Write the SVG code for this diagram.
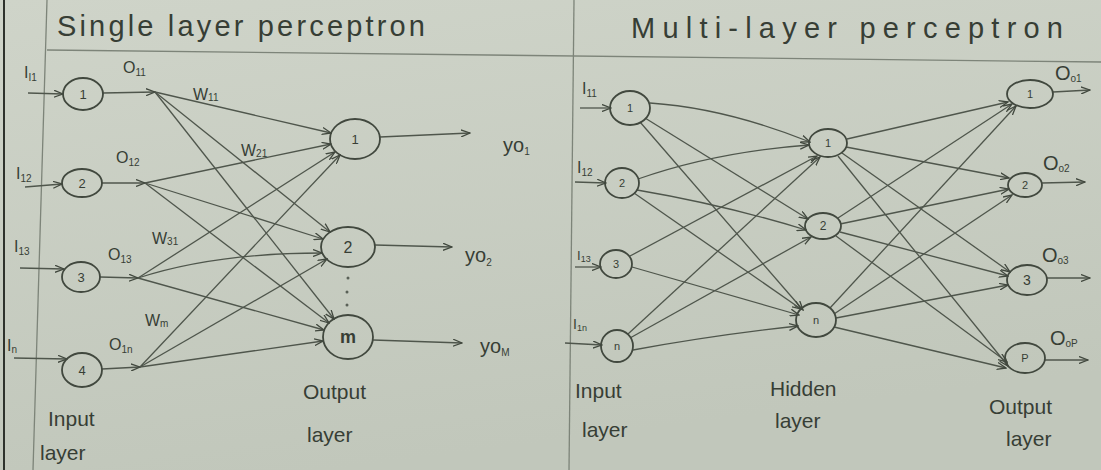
<svg xmlns="http://www.w3.org/2000/svg" width="1101" height="470" viewBox="0 0 1101 470">
<defs>
<linearGradient id="paper" x1="0" y1="0" x2="0.3" y2="1">
<stop offset="0" stop-color="#cfd4c9"/>
<stop offset="1" stop-color="#c1c7bb"/>
</linearGradient>
<marker id="arr" viewBox="0 0 10 8" refX="9" refY="4" markerWidth="10" markerHeight="8" markerUnits="userSpaceOnUse" orient="auto">
<path d="M0,0.5 L9,4 L0,7.5" fill="none" stroke="#41483e" stroke-width="1.3"/>
</marker>
<style>
.node{stroke:#41483e;stroke-width:1.8;fill:none}
.edge{stroke:#4f564c;stroke-width:1.3;fill:none;marker-end:url(#arr)}
.rule{stroke:#7d8479;stroke-width:1.3;fill:none}
text{font-family:"Liberation Sans","DejaVu Sans",sans-serif;fill:#373e35}
.title{font-size:29px}
.lbl{font-size:16px}
.sub{font-size:10px}
.num{font-size:13px;text-anchor:middle}
.cap{font-size:21px}
.y{font-size:20px}
</style>
</defs>
<rect x="0" y="0" width="1101" height="470" fill="url(#paper)"/>
<g id="frame">
<line x1="4" y1="0" x2="4" y2="470" stroke="#2e322c" stroke-width="2"/>
<line class="rule" x1="47" y1="0" x2="33" y2="470"/>
<line class="rule" x1="47" y1="50" x2="1101" y2="62"/>
<line class="rule" x1="574" y1="0" x2="569" y2="470"/>
</g>
<g id="titles">
<text class="title" x="57" y="36" textLength="368" lengthAdjust="spacing">Single layer perceptron</text>
<text class="title" x="631" y="38" textLength="432" lengthAdjust="spacing">Multi-layer perceptron</text>
</g>
<g id="connectors">
<line class="edge" x1="28" y1="93" x2="63" y2="94"/>
<line class="edge" x1="25" y1="187" x2="62" y2="184"/>
<line class="edge" x1="20" y1="268" x2="64" y2="269"/>
<line class="edge" x1="14" y1="358" x2="67" y2="359"/>
<line class="edge" x1="103" y1="93" x2="155" y2="92"/>
<line class="edge" x1="102" y1="183" x2="145" y2="183"/>
<line class="edge" x1="100" y1="277" x2="138" y2="278"/>
<line class="edge" x1="102" y1="369" x2="140" y2="367"/>
<line class="edge" x1="155" y1="92" x2="331" y2="133"/>
<line class="edge" x1="155" y1="92" x2="330" y2="232"/>
<line class="edge" x1="155" y1="92" x2="334" y2="319"/>
<line class="edge" x1="145" y1="183" x2="331" y2="144"/>
<line class="edge" x1="145" y1="183" x2="323" y2="239"/>
<line class="edge" x1="145" y1="183" x2="329" y2="323"/>
<line class="edge" x1="138" y1="278" x2="335" y2="152"/>
<path class="edge" d="M138,278 Q215,253 322,253"/>
<line class="edge" x1="138" y1="278" x2="324" y2="330"/>
<line class="edge" x1="140" y1="367" x2="340" y2="155"/>
<line class="edge" x1="140" y1="367" x2="327" y2="259"/>
<line class="edge" x1="140" y1="367" x2="323" y2="341"/>
<line class="edge" x1="380" y1="137" x2="470" y2="133"/>
<line class="edge" x1="375" y1="245" x2="452" y2="247"/>
<line class="edge" x1="373" y1="340" x2="462" y2="343"/>
<line class="edge" x1="580" y1="108" x2="611" y2="108"/>
<line class="edge" x1="575" y1="182" x2="606" y2="183"/>
<line class="edge" x1="575" y1="267" x2="601" y2="267"/>
<line class="edge" x1="565" y1="343" x2="602" y2="345"/>
<path class="edge" d="M650,103 Q725,108 810,142"/>
<line class="edge" x1="645" y1="118" x2="808" y2="219"/>
<line class="edge" x1="640" y1="122" x2="803" y2="310"/>
<path class="edge" d="M638,179 Q715,152 809,145"/>
<path class="edge" d="M637,190 Q725,205 806,230"/>
<line class="edge" x1="634" y1="193" x2="801" y2="309"/>
<line class="edge" x1="630" y1="256" x2="817" y2="156"/>
<line class="edge" x1="632" y1="267" x2="799" y2="315"/>
<line class="edge" x1="628" y1="334" x2="820" y2="157"/>
<line class="edge" x1="630" y1="338" x2="811" y2="237"/>
<path class="edge" d="M633,350 Q715,335 798,326"/>
<line class="edge" x1="847" y1="139" x2="1008" y2="102"/>
<line class="edge" x1="846" y1="147" x2="1009" y2="178"/>
<line class="edge" x1="842" y1="153" x2="1010" y2="272"/>
<line class="edge" x1="838" y1="156" x2="1008" y2="366"/>
<line class="edge" x1="838" y1="218" x2="1012" y2="104"/>
<line class="edge" x1="840" y1="224" x2="1009" y2="189"/>
<line class="edge" x1="840" y1="232" x2="1008" y2="276"/>
<line class="edge" x1="836" y1="236" x2="1007" y2="362"/>
<line class="edge" x1="830" y1="308" x2="1016" y2="106"/>
<line class="edge" x1="834" y1="314" x2="1012" y2="195"/>
<line class="edge" x1="836" y1="318" x2="1008" y2="285"/>
<line class="edge" x1="834" y1="327" x2="1006" y2="368"/>
<line class="edge" x1="1053" y1="92" x2="1090" y2="90"/>
<line class="edge" x1="1042" y1="183" x2="1085" y2="182"/>
<line class="edge" x1="1047" y1="278" x2="1090" y2="278"/>
<line class="edge" x1="1045" y1="360" x2="1088" y2="360"/>
</g>
<g id="slp-in1"><ellipse class="node" cx="83" cy="94" rx="20" ry="16"/><text class="num" x="83" y="99">1</text></g>
<g id="slp-in2"><ellipse class="node" cx="82" cy="183" rx="20" ry="14"/><text class="num" x="82" y="188">2</text></g>
<g id="slp-in3"><ellipse class="node" cx="81" cy="277" rx="19" ry="15"/><text class="num" x="81" y="282">3</text></g>
<g id="slp-in4"><ellipse class="node" cx="82" cy="370" rx="20" ry="17"/><text class="num" x="82" y="375">4</text></g>
<g id="slp-out1"><ellipse class="node" cx="355" cy="139" rx="25" ry="20"/><text class="num" x="355" y="144">1</text></g>
<g id="slp-out2"><ellipse class="node" cx="348" cy="247" rx="27" ry="20"/><text class="num" x="348" y="253" style="font-size:16px">2</text></g>
<g id="slp-outm"><ellipse class="node" cx="348" cy="337" rx="25" ry="22"/><text class="num" x="348" y="343" style="font-size:18px;font-weight:bold">m</text></g>
<g id="slp-dots" fill="#5a6157"><circle cx="348" cy="278" r="1.5"/><circle cx="347" cy="292" r="1.5"/><circle cx="347" cy="305" r="1.5"/></g>
<g id="slp-labels">
<text class="lbl" x="24" y="78">I<tspan class="sub" dy="3">I1</tspan></text>
<text class="lbl" x="16" y="179">I<tspan class="sub" dy="3">12</tspan></text>
<text class="lbl" x="14" y="252">I<tspan class="sub" dy="3">13</tspan></text>
<text class="lbl" x="7" y="351">I<tspan class="sub" dy="2">n</tspan></text>
<text class="lbl" x="123" y="73">O<tspan class="sub" dy="3">11</tspan></text>
<text class="lbl" x="116" y="163">O<tspan class="sub" dy="3">12</tspan></text>
<text class="lbl" x="108" y="260">O<tspan class="sub" dy="3">13</tspan></text>
<text class="lbl" x="109" y="350">O<tspan class="sub" dy="3">1n</tspan></text>
<text class="lbl" x="193" y="100">W<tspan class="sub" dy="1">11</tspan></text>
<text class="lbl" x="241" y="156">W<tspan class="sub" dy="1">21</tspan></text>
<text class="lbl" x="152" y="244">W<tspan class="sub" dy="1">31</tspan></text>
<text class="lbl" x="145" y="326">W<tspan class="sub" dy="1">m</tspan></text>
<text class="y" x="503" y="152">yo<tspan class="sub" dy="3">1</tspan></text>
<text class="y" x="465" y="262">yo<tspan class="sub" dy="4">2</tspan></text>
<text class="y" x="480" y="353">yo<tspan class="sub" dy="3">M</tspan></text>
<text class="cap" x="48" y="426">Input</text>
<text class="cap" x="40" y="460">layer</text>
<text class="cap" x="303" y="399">Output</text>
<text class="cap" x="307" y="442">layer</text>
</g>
<g id="mlp-in1"><ellipse class="node" cx="630" cy="108" rx="20" ry="17"/><text class="num" x="630" y="112" style="font-size:11px">1</text></g>
<g id="mlp-in2"><ellipse class="node" cx="622" cy="183" rx="17" ry="15"/><text class="num" x="622" y="187" style="font-size:11px">2</text></g>
<g id="mlp-in3"><ellipse class="node" cx="616" cy="264" rx="16" ry="14"/><text class="num" x="616" y="268" style="font-size:11px">3</text></g>
<g id="mlp-inn"><ellipse class="node" cx="617" cy="346" rx="16" ry="16"/><text class="num" x="617" y="350" style="font-size:11px">n</text></g>
<g id="mlp-h1"><ellipse class="node" cx="828" cy="143" rx="19" ry="14"/><text class="num" x="828" y="147" style="font-size:11px">1</text></g>
<g id="mlp-h2"><ellipse class="node" cx="823" cy="226" rx="18" ry="13"/><text class="num" x="823" y="230" style="font-size:12px">2</text></g>
<g id="mlp-hn"><ellipse class="node" cx="816" cy="320" rx="20" ry="17"/><text class="num" x="816" y="324" style="font-size:11px">n</text></g>
<g id="mlp-o1"><ellipse class="node" cx="1030" cy="94" rx="23" ry="14"/><text class="num" x="1030" y="98" style="font-size:11px">1</text></g>
<g id="mlp-o2"><ellipse class="node" cx="1025" cy="185" rx="17" ry="12"/><text class="num" x="1025" y="189" style="font-size:11px">2</text></g>
<g id="mlp-o3"><ellipse class="node" cx="1027" cy="280" rx="20" ry="15"/><text class="num" x="1027" y="285" style="font-size:14px">3</text></g>
<g id="mlp-op"><ellipse class="node" cx="1025" cy="358" rx="20" ry="15"/><text class="num" x="1025" y="362" style="font-size:11px">P</text></g>
<g id="mlp-labels">
<text class="lbl" x="582" y="94">I<tspan class="sub" dy="3">11</tspan></text>
<text class="lbl" x="577" y="173">I<tspan class="sub" dy="3">12</tspan></text>
<text class="lbl" x="577" y="260" style="font-size:13px">I<tspan class="sub" dy="2" style="font-size:9px">13</tspan></text>
<text class="lbl" x="573" y="329" style="font-size:14px">I<tspan class="sub" dy="2" style="font-size:9px">1n</tspan></text>
<text class="y" x="1055" y="80">O<tspan class="sub" dy="2">o1</tspan></text>
<text class="y" x="1043" y="170">O<tspan class="sub" dy="2">o2</tspan></text>
<text class="y" x="1042" y="262">O<tspan class="sub" dy="2">o3</tspan></text>
<text class="y" x="1050" y="345">O<tspan class="sub" dy="2">oP</tspan></text>
<text class="cap" x="575" y="398">Input</text>
<text class="cap" x="582" y="437">layer</text>
<text class="cap" x="770" y="396">Hidden</text>
<text class="cap" x="775" y="428">layer</text>
<text class="cap" x="989" y="414">Output</text>
<text class="cap" x="1006" y="446">layer</text>
</g>
</svg>
